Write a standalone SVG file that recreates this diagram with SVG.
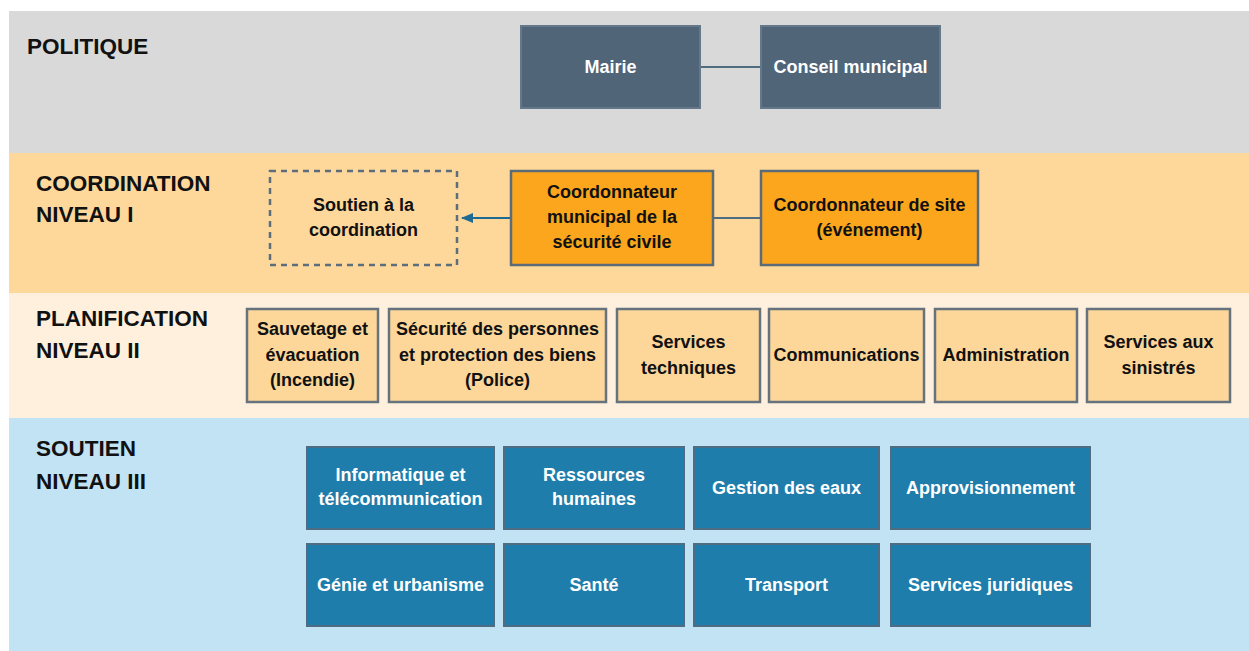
<svg xmlns="http://www.w3.org/2000/svg" width="1249" height="651" viewBox="0 0 1249 651">
<defs>
<style>
.lbl{font-family:"Liberation Sans",Arial,sans-serif;font-weight:bold;font-size:22.5px;fill:#111}
.t{font-family:"Liberation Sans",Arial,sans-serif;font-weight:bold;font-size:18px;text-anchor:middle}
.tw{fill:#ffffff}
.tk{fill:#111111}
.pol{fill:#506577;stroke:#64788a;stroke-width:2}
.co{fill:#FBA61C;stroke:#5c6b78;stroke-width:2.5}
.pl{fill:#FDD79A;stroke:#66737e;stroke-width:2.5}
.so{fill:#1F7DAB;stroke:#4e6d84;stroke-width:2}
.dash{fill:none;stroke:#5d6d7b;stroke-width:2.5;stroke-dasharray:6 5}
.conn{stroke:#4f6d80;stroke-width:2;fill:none}
</style>
<marker id="arr" markerWidth="12" markerHeight="10" refX="11" refY="5" orient="auto" markerUnits="userSpaceOnUse">
<path d="M0,0 L12,5 L0,10 Z" fill="#1f6a92"/>
</marker>
</defs>
<rect x="0" y="0" width="1249" height="651" fill="#ffffff"/>
<rect x="9" y="11" width="1240" height="142" fill="#D9D9D9"/>
<rect x="9" y="153" width="1240" height="140" fill="#FED89B"/>
<rect x="9" y="293" width="1240" height="125" fill="#FEF0DD"/>
<rect x="9" y="418" width="1240" height="233" fill="#C1E3F4"/>

<text class="lbl" x="27" y="54">POLITIQUE</text>
<text class="lbl" x="36" y="191">COORDINATION</text>
<text class="lbl" x="36" y="222">NIVEAU I</text>
<text class="lbl" x="36" y="326">PLANIFICATION</text>
<text class="lbl" x="36" y="358">NIVEAU II</text>
<text class="lbl" x="36" y="456">SOUTIEN</text>
<text class="lbl" x="36" y="489">NIVEAU III</text>

<g id="connectors">
<line class="conn" x1="700" y1="67" x2="761" y2="67"/>
<line class="conn" x1="713" y1="218" x2="761" y2="218"/>
<line x1="511" y1="218" x2="462" y2="218" stroke="#1f6a92" stroke-width="2" marker-end="url(#arr)"/>
</g>

<g id="mairie"><rect class="pol" x="521" y="26" width="179" height="82"/><text class="t tw" x="610.5" y="73">Mairie</text></g>
<g id="conseil"><rect class="pol" x="761" y="26" width="179" height="82"/><text class="t tw" x="850.5" y="73">Conseil municipal</text></g>

<g id="soutien-coord"><rect class="dash" x="270" y="171" width="187" height="94"/><text class="t tk" x="363.5" y="211">Soutien à la</text><text class="t tk" x="363.5" y="236">coordination</text></g>
<g id="coord-municipal"><rect class="co" x="511" y="171" width="202" height="94"/><text class="t tk" x="612" y="198">Coordonnateur</text><text class="t tk" x="612" y="223">municipal de la</text><text class="t tk" x="612" y="248">sécurité civile</text></g>
<g id="coord-site"><rect class="co" x="761" y="171" width="217" height="94"/><text class="t tk" x="869.5" y="211">Coordonnateur de site</text><text class="t tk" x="869.5" y="236">(événement)</text></g>

<g id="sauvetage"><rect class="pl" x="247" y="309" width="131" height="93"/><text class="t tk" x="312.5" y="335">Sauvetage et</text><text class="t tk" x="312.5" y="361">évacuation</text><text class="t tk" x="312.5" y="386">(Incendie)</text></g>
<g id="securite"><rect class="pl" x="389" y="309" width="217" height="93"/><text class="t tk" x="497.5" y="335">Sécurité des personnes</text><text class="t tk" x="497.5" y="361">et protection des biens</text><text class="t tk" x="497.5" y="386">(Police)</text></g>
<g id="services-techniques"><rect class="pl" x="617" y="309" width="143" height="93"/><text class="t tk" x="688.5" y="348">Services</text><text class="t tk" x="688.5" y="374">techniques</text></g>
<g id="communications"><rect class="pl" x="769" y="309" width="155" height="93"/><text class="t tk" x="846.5" y="361">Communications</text></g>
<g id="administration"><rect class="pl" x="935" y="309" width="142" height="93"/><text class="t tk" x="1006" y="361">Administration</text></g>
<g id="services-sinistres"><rect class="pl" x="1087" y="309" width="143" height="93"/><text class="t tk" x="1158.5" y="348">Services aux</text><text class="t tk" x="1158.5" y="374">sinistrés</text></g>

<g id="informatique"><rect class="so" x="307" y="447" width="187" height="82"/><text class="t tw" x="400.5" y="481">Informatique et</text><text class="t tw" x="400.5" y="505">télécommunication</text></g>
<g id="ressources"><rect class="so" x="504" y="447" width="180" height="82"/><text class="t tw" x="594" y="481">Ressources</text><text class="t tw" x="594" y="505">humaines</text></g>
<g id="eaux"><rect class="so" x="694" y="447" width="185" height="82"/><text class="t tw" x="786.5" y="494">Gestion des eaux</text></g>
<g id="approvisionnement"><rect class="so" x="891" y="447" width="199" height="82"/><text class="t tw" x="990.5" y="494">Approvisionnement</text></g>
<g id="genie"><rect class="so" x="307" y="544" width="187" height="82"/><text class="t tw" x="400.5" y="591">Génie et urbanisme</text></g>
<g id="sante"><rect class="so" x="504" y="544" width="180" height="82"/><text class="t tw" x="594" y="591">Santé</text></g>
<g id="transport"><rect class="so" x="694" y="544" width="185" height="82"/><text class="t tw" x="786.5" y="591">Transport</text></g>
<g id="juridiques"><rect class="so" x="891" y="544" width="199" height="82"/><text class="t tw" x="990.5" y="591">Services juridiques</text></g>
</svg>
